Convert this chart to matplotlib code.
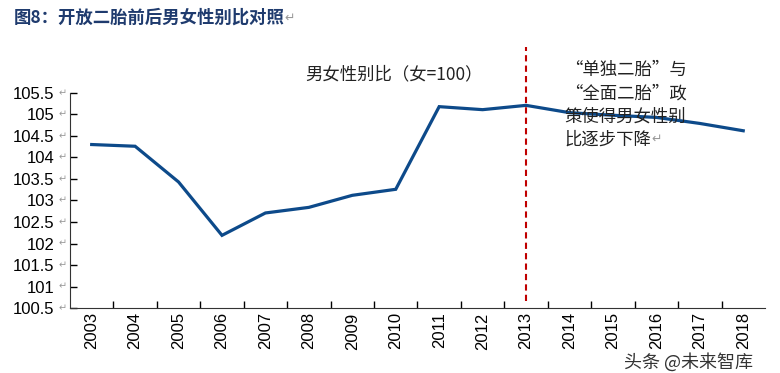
import matplotlib.pyplot as plt
import matplotlib.transforms as mtransforms
import numpy as np

plt.rcParams['font.family'] = ['Liberation Sans', 'Noto Sans CJK SC', 'DejaVu Sans']

years = ['2003', '2004', '2005', '2006', '2007', '2008', '2009', '2010',
         '2011', '2012', '2013', '2014', '2015', '2016', '2017', '2018']
ratio = [104.3, 104.26, 103.43, 102.19, 102.71, 102.84, 103.12, 103.26,
         105.18, 105.11, 105.21, 105.04, 104.98, 104.93, 104.79, 104.62]
yticks = [100.5, 101, 101.5, 102, 102.5, 103, 103.5, 104, 104.5, 105, 105.5]
policy_year = '2013'

fig = plt.figure(figsize=(7.8, 3.73), dpi=100)
ax = fig.add_axes([0.0897, 0.174, 0.891, 0.577])

x = np.arange(len(years))
ax.plot(x, ratio, color='#0D4A8A', lw=2.3, solid_joinstyle='miter')

# policy marker
ax.axvline(years.index(policy_year), ymin=0.035, ymax=1.215, color='#C00000',
           lw=1.5, ls=(0, (3, 2)), clip_on=False)

ax.set_xlim(-0.5, len(years) - 0.5)
ax.set_ylim(100.5, 105.5)
ax.set_xticks(x)
ax.set_xticklabels(years, rotation=90, fontsize=12)
ax.set_xticks(np.arange(0.5, len(years) - 1), minor=True)
ax.tick_params(axis='x', which='major', length=0, pad=3)
ax.tick_params(axis='x', which='minor', length=5, direction='in', width=1)

ax.set_yticks(yticks)
ax.set_yticklabels([('%g' % v) for v in yticks], fontsize=12)
ax.tick_params(axis='y', length=5, direction='in', width=1, pad=11)
arrow_tr = ax.get_yaxis_transform() + mtransforms.ScaledTranslation(
    -7 / 100, 0, fig.dpi_scale_trans)
for v in yticks:
    ax.text(0, v, '↵', transform=arrow_tr, ha='center', va='center',
            fontsize=7, color='#999999', family=['DejaVu Sans'])

for s in ['top', 'right']:
    ax.spines[s].set_visible(False)
for s in ['left', 'bottom']:
    ax.spines[s].set_color('#333333')

cjk = ['Noto Sans CJK SC', 'DejaVu Sans']
title = fig.text(0.018, 0.952, '图8：开放二胎前后男女性别比对照', fontsize=12.5,
                 fontweight='bold', color='#1F3B6E', family=cjk, va='center')
ax.annotate('↵', xy=(1, 0.5), xycoords=title, va='center', ha='left',
            fontsize=9, color='#999999', family=['DejaVu Sans'])
fig.text(0.392, 0.8, '男女性别比（女=100）', fontsize=12.5, color='#222222',
         family=cjk, va='center')
note = ['“单独二胎”与', '“全面二胎”政', '策使得男女性别', '比逐步下降']
last = None
for i, line in enumerate(note):
    last = fig.text(0.724, 0.812 - i * 0.062, line, fontsize=12.5,
                    color='#222222', family=cjk, va='center')
ax.annotate('↵', xy=(1, 0.5), xycoords=last, va='center', ha='left',
            fontsize=9, color='#999999', family=['DejaVu Sans'])
fig.text(0.8, 0.028, '头条 @未来智库', fontsize=13, color='#333333',
         family=cjk, va='center')

fig.savefig('out.png', dpi=100)
